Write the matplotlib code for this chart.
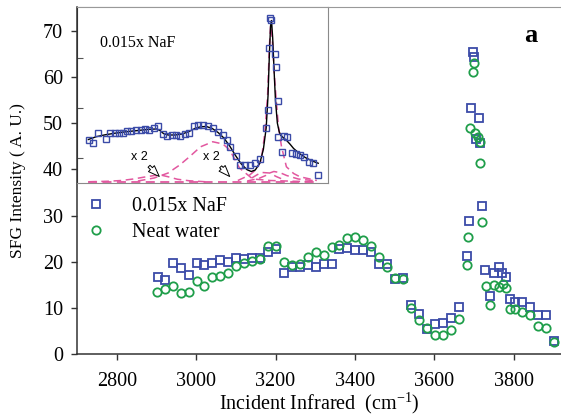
import matplotlib
matplotlib.use("Agg")
from matplotlib import pyplot as plt

plt.rcParams['font.family'] = ['Liberation Serif', 'DejaVu Serif']
plt.rcParams['mathtext.fontset'] = 'custom'
plt.rcParams['mathtext.rm'] = 'Liberation Serif'

# SFG spectra, main panel (wavenumber in cm-1, intensity in a.u.)
naf_x = [2903, 2922, 2942, 2961, 2981, 3001, 3021, 3041, 3061, 3081,
         3101, 3121, 3141, 3161, 3181, 3201, 3221, 3241, 3261, 3281,
         3301, 3321, 3341, 3361, 3381, 3401, 3421, 3441, 3461, 3481,
         3501, 3521, 3541, 3561, 3581, 3601, 3621, 3641, 3661, 3681,
         3687, 3693, 3697, 3701, 3704, 3712, 3716, 3720, 3728, 3741,
         3749, 3762, 3770, 3781, 3790, 3802, 3821, 3840, 3860, 3880, 3901]
naf_y = [16.6, 16.0, 19.8, 18.6, 17.1, 19.8, 19.3, 19.8, 20.4, 20.0,
         20.7, 20.6, 20.7, 20.8, 22.0, 22.7, 17.6, 18.8, 18.9, 19.3,
         18.8, 19.5, 19.5, 22.7, 22.9, 22.5, 22.5, 22.0, 19.6, 19.5,
         16.2, 16.4, 10.6, 8.7, 5.4, 6.5, 6.8, 7.7, 10.1, 21.2,
         28.9, 53.4, 65.5, 64.4, 46.7, 51.1, 45.8, 32.1, 18.2, 12.6,
         17.6, 18.9, 17.5, 16.6, 11.9, 11.3, 11.3, 10.1, 8.5, 8.5, 2.9]

water_x = [2902, 2922, 2942, 2961, 2981, 3001, 3021, 3041, 3061, 3081,
           3101, 3121, 3141, 3161, 3181, 3201, 3221, 3241, 3261, 3281,
           3301, 3321, 3341, 3361, 3381, 3401, 3421, 3441, 3461, 3481,
           3501, 3521, 3541, 3561, 3581, 3601, 3621, 3641, 3661, 3681,
           3686, 3691, 3697, 3701, 3703, 3709, 3714, 3716, 3720, 3730,
           3741, 3751, 3764, 3773, 3781, 3791, 3802, 3821, 3840, 3860,
           3880, 3901]
water_y = [13.5, 14.0, 14.7, 13.3, 13.4, 15.9, 14.7, 16.6, 16.9, 17.6,
           19.1, 19.8, 20.2, 20.6, 23.4, 23.4, 20.0, 19.3, 19.5, 21.1,
           22.0, 21.5, 23.1, 23.6, 25.1, 25.3, 24.7, 23.3, 21.0, 18.9,
           16.4, 16.2, 9.9, 7.4, 5.6, 4.1, 4.1, 5.1, 7.5, 19.3,
           25.4, 49.0, 61.2, 63.0, 47.8, 47.1, 46.0, 41.3, 28.5, 14.7,
           10.6, 15.0, 14.6, 15.2, 14.2, 9.7, 9.7, 9.0, 8.5, 6.1,
           5.6, 2.5]

# inset: NaF spectrum with fit and fit components
ins_x = [2920, 2937, 2958, 2992, 3010, 3030, 3049, 3064, 3081, 3100,
         3122, 3143, 3160, 3179, 3201, 3217, 3236, 3254, 3277, 3294,
         3312, 3334, 3352, 3370, 3388, 3409, 3431, 3452, 3474, 3496,
         3513, 3525, 3551, 3568, 3589, 3611, 3632, 3654, 3683, 3690,
         3694, 3700, 3702, 3719, 3723, 3735, 3735, 3748, 3758, 3772,
         3791, 3810, 3827, 3845, 3867, 3885, 3903]
ins_y = [17.2, 16.1, 19.9, 17.5, 19.9, 19.9, 19.9, 20.1, 20.8, 20.9,
         21.2, 21.2, 21.5, 21.2, 22.1, 22.8, 19.6, 18.8, 19.2, 19.2,
         18.9, 19.5, 20.1, 22.8, 23.1, 23.1, 22.8, 21.9, 20.5, 19.2,
         17.2, 14.5, 10.8, 7.2, 7.2, 7.2, 7.9, 9.5, 21.9, 29.2,
         53.9, 65.9, 65.2, 51.5, 46.5, 32.9, 18.5, 12.5, 18.8, 18.5,
         11.9, 11.6, 11.2, 10.5, 8.5, 8.1, 3.2]

fit_x = [2917, 2950, 2990, 3030, 3080, 3130, 3180, 3210, 3225, 3240,
         3260, 3290, 3320, 3350, 3375, 3400, 3425, 3450, 3475, 3500,
         3525, 3550, 3575, 3600, 3618, 3635, 3655, 3670, 3682, 3690,
         3696, 3701, 3705, 3710, 3716, 3722, 3730, 3738, 3745, 3755,
         3770, 3785, 3800, 3825, 3850, 3880, 3906]
fit_y = [17.4, 18.5, 19.3, 19.9, 20.5, 21.0, 21.5, 21.6, 21.0, 19.8,
         19.2, 19.2, 19.6, 20.6, 21.8, 22.5, 22.6, 21.8, 20.2, 18.0,
         14.8, 11.0, 7.6, 5.3, 4.6, 5.2, 8.0, 13.5, 22.0, 35.0,
         52.0, 63.0, 65.0, 58.0, 45.0, 33.0, 24.0, 20.5, 19.0, 18.2,
         17.0, 15.5, 13.8, 11.8, 10.2, 8.8, 7.9]

comp_a_x = [3130, 3200, 3260, 3310, 3352, 3400, 3452, 3496, 3525, 3568,
            3624, 3700, 3800, 3900]
comp_a_y = [0.8, 2.0, 4.0, 7.2, 10.5, 14.5, 16.5, 15.6, 13.2, 5.9,
            1.6, 1.0, 0.7, 0.5]
comp_b_x = [2920, 3000, 3060, 3110, 3160, 3200, 3228, 3260, 3300, 3350, 3420]
comp_b_y = [0.5, 0.7, 1.0, 1.6, 2.4, 3.0, 3.2, 2.5, 1.5, 0.9, 0.5]
comp_c_x = [3560, 3611, 3640, 3661, 3676, 3688, 3696, 3701, 3708, 3718,
            3729, 3735, 3748, 3769, 3800, 3827, 3900]
comp_c_y = [1.0, 3.2, 5.5, 9.2, 19.9, 35.0, 55.0, 63.0, 58.0, 42.0,
            29.0, 22.5, 14.5, 6.5, 3.8, 2.5, 1.0]
comp_d_x = [3600, 3650, 3680, 3697, 3715, 3740, 3770, 3820, 3900]
comp_d_y = [0.8, 1.8, 3.0, 4.0, 4.6, 4.2, 3.0, 1.6, 0.8]
comp_e_x = [3620, 3645, 3665, 3697, 3725, 3760]
comp_e_y = [2.0, 3.4, 4.2, 4.0, 2.6, 1.2]
base_x = [2917, 3906]
base_y = [0.5, 0.5]

BLUE = '#3b4ba8'
GREEN = '#1f9e4a'
PINK = '#e2579f'

fig = plt.figure(figsize=(5.61, 4.15), dpi=100)
ax = fig.add_axes([77 / 561, 1 - 354 / 415, 484 / 561, 347 / 415])

ax.plot(naf_x, naf_y, 's', ms=5.6, mfc='none', mec=BLUE, mew=1.3,
        label='0.015x NaF')
ax.plot(water_x, water_y, 'o', ms=6.0, mfc='none', mec=GREEN, mew=1.3,
        label='Neat water')

ax.set_xlim(2700, 3919)
ax.set_ylim(0, 75.2)
ax.set_xticks([2800, 3000, 3200, 3400, 3600, 3800])
ax.set_yticks(range(0, 80, 10))
ax.tick_params(direction='out', length=4, width=1, labelsize=14.5,
               color='#333333')
ax.tick_params(axis='x', pad=9)
ax.tick_params(axis='y', pad=6)
ax.spines['right'].set_visible(False)
ax.spines['top'].set_color('#999999')
for s in ('left', 'bottom'):
    ax.spines[s].set_color('#333333')
    ax.spines[s].set_linewidth(1.1)

ax.set_xlabel('Incident Infrared  (cm$^{\\mathregular{-1}}$)', fontsize=14.5,
              labelpad=-1)
ax.set_ylabel('SFG Intensity ( A. U.)', fontsize=12.5, labelpad=12)

ax.legend(loc='upper left', bbox_to_anchor=(9 / 484, 157 / 347),
          frameon=False, fontsize=14.5, handlelength=1.0,
          handletextpad=1.3, labelspacing=0.35, borderpad=0,
          borderaxespad=0)

ax.text(0.938, 0.919, 'a', transform=ax.transAxes, fontsize=19,
        fontweight='bold', ha='center', va='center')

# inset with the fitted NaF spectrum
ins = fig.add_axes([77 / 561, 1 - 183 / 415, 251 / 561, 176 / 415])
ins.plot(base_x, base_y, '--', color=PINK, lw=1.3, dashes=(5, 3))
for cx, cy in [(comp_a_x, comp_a_y), (comp_b_x, comp_b_y),
               (comp_c_x, comp_c_y), (comp_d_x, comp_d_y),
               (comp_e_x, comp_e_y)]:
    ins.plot(cx, cy, '--', color=PINK, lw=1.1, dashes=(5, 3))
ins.plot(fit_x, fit_y, '-', color='black', lw=1.0)
ins.plot(ins_x, ins_y, 's', ms=4.6, mfc='none', mec=BLUE, mew=1.0)

ins.set_xlim(2868, 3948)
ins.set_ylim(0, 70.4)
ins.set_xticks([])
ins.set_yticks([10, 30, 50])
ins.tick_params(axis='y', direction='in', length=4, width=0.8,
                labelleft=False, color='#555555')
ins.spines['left'].set_color('#333333')
ins.spines['top'].set_color('#999999')
for s in ('right', 'bottom'):
    ins.spines[s].set_color('#8a8a8a')

ins.text(0.092, 0.795, '0.015x NaF', transform=ins.transAxes,
         fontsize=11.5, va='center', ha='left')

arrow = dict(arrowstyle='simple, head_width=0.6, head_length=0.8, tail_width=0.2',
             fc='white', ec='black', lw=0.7, shrinkA=1, shrinkB=0,
             mutation_scale=10)
ins.annotate('x 2', xy=(3222, 2.6), xytext=(3136, 10.6), fontsize=9,
             family='Liberation Sans', ha='center', va='center',
             arrowprops=arrow)
ins.annotate('x 2', xy=(3525, 2.6), xytext=(3447, 10.4), fontsize=9,
             family='Liberation Sans', ha='center', va='center',
             arrowprops=arrow)

fig.savefig('out.png', dpi=100)
